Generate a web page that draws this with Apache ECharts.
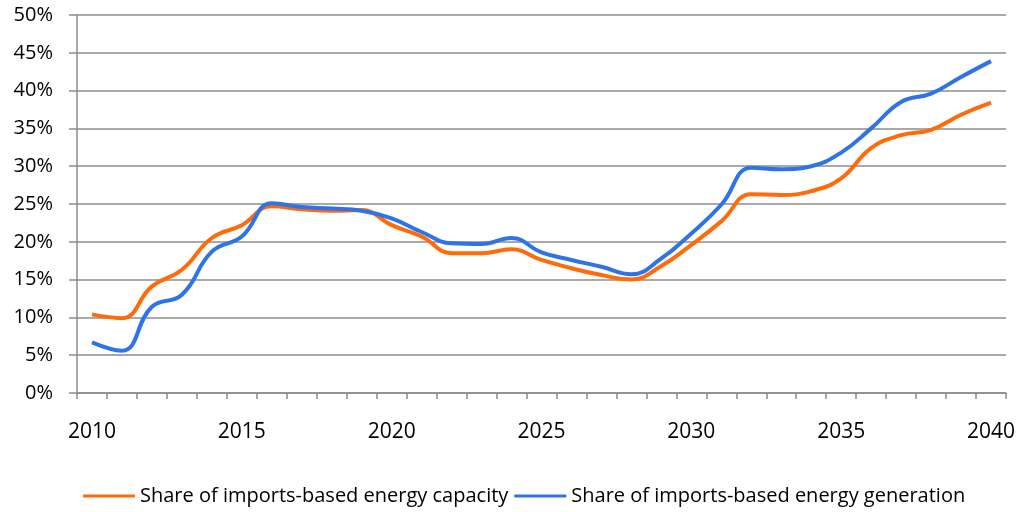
<!DOCTYPE html>
<html>
<head>
<meta charset="utf-8">
<script src="https://cdn.jsdelivr.net/npm/echarts@6/dist/echarts.min.js"></script>
<style>
  html, body { margin: 0; padding: 0; background: #fff; }
  #chart { width: 1020px; height: 512px; }
</style>
</head>
<body>
<div id="chart"></div>
<script>
// years on the x axis
const years = [];
for (let y = 2010; y <= 2040; y++) years.push(String(y));

// share of imports-based energy capacity (%)
const capacity = [
  10.4, 9.9, 14.1, 16.3, 20.5, 22.2, 24.7, 24.3, 24.1, 24.2,
  22.2, 20.7, 18.5, 18.5, 19.0, 17.6, 16.5, 15.6, 15.0, 16.8,
  19.6, 22.7, 26.3, 26.2, 26.7, 28.4, 32.4, 34.1, 34.8, 36.8,
  38.4
];

// share of imports-based energy generation (%)
const generation = [
  6.7, 5.6, 11.4, 13.0, 18.7, 20.7, 25.1, 24.6, 24.4, 24.1,
  23.1, 21.3, 19.8, 19.7, 20.5, 18.6, 17.6, 16.7, 15.7, 17.8,
  21.1, 24.9, 29.8, 29.6, 30.0, 31.8, 35.0, 38.5, 39.6, 41.8,
  43.9
];

const seriesNames = [
  "Share of imports-based energy capacity",
  "Share of imports-based energy generation"
];

const gridColor = "#8c8c8c";
const font = "'Open Sans', 'Liberation Sans', sans-serif";

const chart = echarts.init(document.getElementById("chart"));

const option = {
  animation: false,
  textStyle: { fontFamily: font },
  grid: { left: 77, right: 14, top: 15, bottom: 119 },
  legend: {
    left: 78,
    bottom: 1,
    itemGap: 6,
    itemWidth: 52,
    itemHeight: 3,
    icon: "rect",
    textStyle: { fontSize: 20, color: "#000", fontFamily: font },
    data: seriesNames
  },
  xAxis: {
    type: "category",
    data: years,
    boundaryGap: true,
    axisLine: { lineStyle: { color: gridColor, width: 1.5 } },
    axisTick: { show: true, interval: 0, length: 6, lineStyle: { color: gridColor, width: 1.5 } },
    axisLabel: { interval: 4, fontSize: 21, color: "#000", margin: 29 },
    splitLine: { show: false }
  },
  yAxis: {
    type: "value",
    min: 0,
    max: 50,
    interval: 5,
    axisLine: { show: true, lineStyle: { color: gridColor, width: 1.5 } },
    axisTick: { show: true, length: 8, lineStyle: { color: gridColor, width: 1.5 } },
    axisLabel: { formatter: "{value}%", fontSize: 20, color: "#000", margin: 24 },
    splitLine: { show: true, lineStyle: { color: gridColor, width: 1.5 } }
  },
  series: [
    {
      name: seriesNames[0],
      type: "line",
      data: capacity,
      smooth: 0.45,
      symbol: "none",
      lineStyle: { width: 4, color: "#ff6a0a" },
      itemStyle: { color: "#ff6a0a" }
    },
    {
      name: seriesNames[1],
      type: "line",
      data: generation,
      smooth: 0.45,
      symbol: "none",
      lineStyle: { width: 4, color: "#2f74e6" },
      itemStyle: { color: "#2f74e6" }
    }
  ]
};

chart.setOption(option);
</script>
</body>
</html>
